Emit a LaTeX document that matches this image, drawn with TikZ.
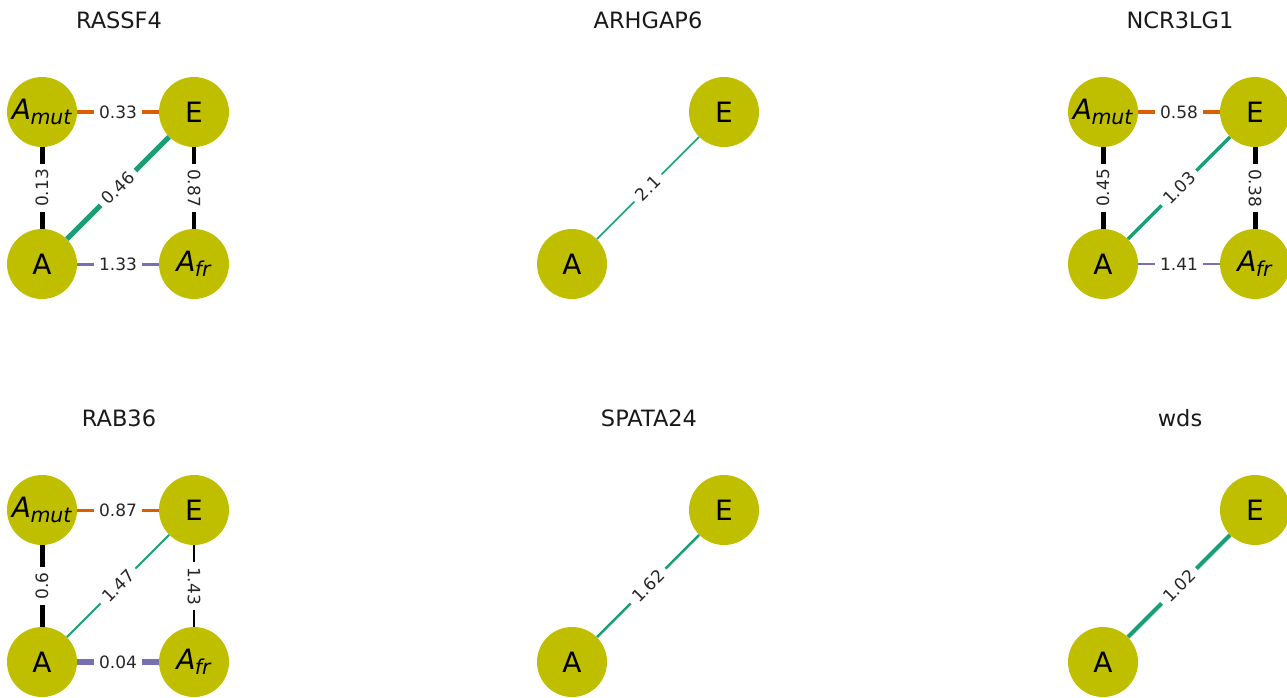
\documentclass[tikz,border=0pt]{standalone}
\usepackage{fontspec}
\setmainfont{DejaVu Sans}
\definecolor{nodecol}{HTML}{BFBF00}
\definecolor{eorange}{HTML}{D95F02}
\definecolor{egreen}{HTML}{1B9E77}
\definecolor{epurple}{HTML}{7570B3}
\newcommand\nsub[1]{\textit{A}\kern-0.5pt\raisebox{-5.5pt}{\fontsize{20.5}{20.5}\selectfont\textit{#1}}}
\tikzset{
  vert/.style={circle, fill=nodecol, draw=none, minimum size=70pt, inner sep=0pt, font=\fontsize{28}{28}\selectfont},
  elab/.style={fill=white, inner xsep=5.5pt, inner ysep=2.5pt, font=\fontsize{17}{17}\selectfont, text=black!85},
  ttl/.style={font=\fontsize{22.5}{22.5}\selectfont, text=black!90},
  eo/.style={draw=eorange},
  eg/.style={draw=egreen},
  ep/.style={draw=epurple},
  ek/.style={draw=black}
}
\begin{document}
\begin{tikzpicture}[x=1pt,y=-1pt]
\useasboundingbox (0,0) rectangle (1287,697);
% titles
\node[ttl] (t1) at (119,20) {RASSF4};
\node[ttl] (t2) at (648,20) {ARHGAP6};
\node[ttl] (t3) at (1180,20) {NCR3LG1};
\node[ttl] (t4) at (119,418) {RAB36};
\node[ttl] (t5) at (649,418) {SPATA24};
\node[ttl] (t6) at (1180,418) {wds};
% panel 1
\node[vert] (am1) at (42,112) {\nsub{mut}};
\node[vert] (e1) at (194,112) {E};
\node[vert] (a1) at (42,264) {A};
\node[vert] (af1) at (194,264) {\nsub{fr}};
\draw[eo, line width=4pt] (am1) -- node[elab]{0.33} (e1);
\draw[ek, line width=5pt] (am1) -- node[elab, rotate=90]{0.13} (a1);
\draw[eg, line width=5pt] (a1) -- node[elab, rotate=45]{0.46} (e1);
\draw[ek, line width=3.5pt] (e1) -- node[elab, rotate=-90]{0.87} (af1);
\draw[ep, line width=3pt] (a1) -- node[elab]{1.33} (af1);
% panel 2
\node[vert] (e2) at (724,112) {E};
\node[vert] (a2) at (572,264) {A};
\draw[eg, line width=1.5pt] (a2) -- node[elab, rotate=45]{2.1} (e2);
% panel 3
\node[vert] (am3) at (1103,112) {\nsub{mut}};
\node[vert] (e3) at (1255,112) {E};
\node[vert] (a3) at (1103,264) {A};
\node[vert] (af3) at (1255,264) {\nsub{fr}};
\draw[eo, line width=3.5pt] (am3) -- node[elab]{0.58} (e3);
\draw[ek, line width=5pt] (am3) -- node[elab, rotate=90]{0.45} (a3);
\draw[eg, line width=3.5pt] (a3) -- node[elab, rotate=45]{1.03} (e3);
\draw[ek, line width=5pt] (e3) -- node[elab, rotate=-90]{0.38} (af3);
\draw[ep, line width=2.5pt] (a3) -- node[elab]{1.41} (af3);
% panel 4
\node[vert] (am4) at (42,510) {\nsub{mut}};
\node[vert] (e4) at (194,510) {E};
\node[vert] (a4) at (42,662) {A};
\node[vert] (af4) at (194,662) {\nsub{fr}};
\draw[eo, line width=3pt] (am4) -- node[elab]{0.87} (e4);
\draw[ek, line width=5pt] (am4) -- node[elab, rotate=90]{0.6} (a4);
\draw[eg, line width=2pt] (a4) -- node[elab, rotate=45]{1.47} (e4);
\draw[ek, line width=2.5pt] (e4) -- node[elab, rotate=-90]{1.43} (af4);
\draw[ep, line width=6pt] (a4) -- node[elab]{0.04} (af4);
% panel 5
\node[vert] (e5) at (724,510) {E};
\node[vert] (a5) at (572,662) {A};
\draw[eg, line width=2.5pt] (a5) -- node[elab, rotate=45]{1.62} (e5);
% panel 6
\node[vert] (e6) at (1255,510) {E};
\node[vert] (a6) at (1103,662) {A};
\draw[eg, line width=4pt] (a6) -- node[elab, rotate=45]{1.02} (e6);
\end{tikzpicture}
\end{document}
